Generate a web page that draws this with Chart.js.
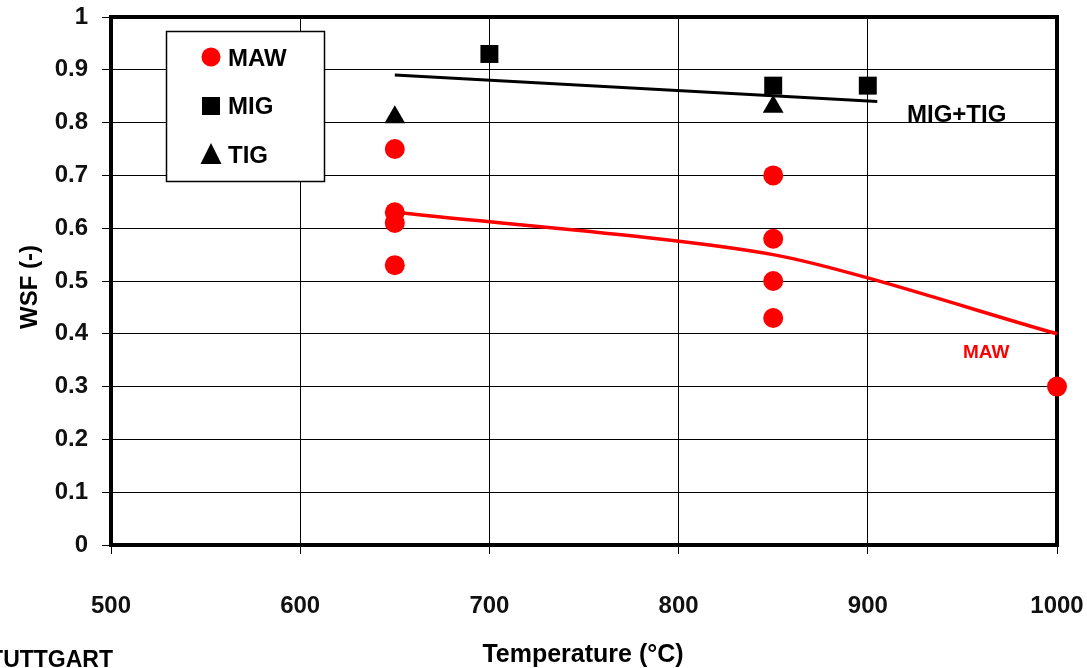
<!DOCTYPE html>
<html>
<head>
<meta charset="utf-8">
<script src="https://cdn.jsdelivr.net/npm/chart.js@4/dist/chart.umd.min.js"></script>
<style>
  html, body { margin: 0; padding: 0; background: #fff; }
  #wrap { width: 1087px; height: 668px; position: relative; }
</style>
</head>
<body>
<div id="wrap"><canvas id="c" width="1087" height="668"></canvas></div>
<script>
// Measured weld strength factors (WSF) against temperature
const mawTemps = [650, 650, 650, 650, 850, 850, 850, 850, 1000];
const mawWsf   = [0.75, 0.63, 0.61, 0.53, 0.70, 0.58, 0.50, 0.43, 0.30];
const migTemps = [700, 850, 900];
const migWsf   = [0.93, 0.87, 0.87];
const tigTemps = [650, 850];
const tigWsf   = [0.81, 0.83];

// Trend lines
const mawFitTemps = [650, 850, 1000];
const mawFitWsf   = [0.63, 0.55, 0.40];
const migTigFitTemps = [650, 905];
const migTigFitWsf   = [0.89, 0.84];

const xTicks = [500, 600, 700, 800, 900, 1000];
const yTicks = [0, 0.1, 0.2, 0.3, 0.4, 0.5, 0.6, 0.7, 0.8, 0.9, 1];

const pts = (xs, ys) => xs.map((x, i) => ({ x: x, y: ys[i] }));
const FONT = "'Liberation Sans', Arial, sans-serif";

// Frame, legend, annotations and axis titles
const decor = {
  id: 'decor',
  beforeDatasetsDraw(chart) {
    const { ctx, chartArea: a } = chart;
    ctx.save();
    ctx.strokeStyle = '#000';
    ctx.lineWidth = 4;
    ctx.strokeRect(a.left, a.top, a.right - a.left, a.bottom - a.top);
    ctx.restore();
  },
  afterDatasetsDraw(chart) {
    const { ctx } = chart;
    ctx.save();
    // legend box
    ctx.fillStyle = '#fff';
    ctx.fillRect(166, 31, 158, 150);
    ctx.strokeStyle = '#000';
    ctx.lineWidth = 1.5;
    ctx.strokeRect(166.5, 31.5, 158, 150);
    ctx.font = 'bold 24px ' + FONT;
    ctx.textBaseline = 'middle';
    ctx.textAlign = 'left';
    // MAW
    ctx.fillStyle = '#ff0000';
    ctx.beginPath(); ctx.arc(211, 57, 9.5, 0, Math.PI * 2); ctx.fill();
    ctx.fillStyle = '#000';
    ctx.fillText('MAW', 228, 59);
    // MIG
    ctx.fillRect(202, 97, 18, 18);
    ctx.fillText('MIG', 228, 107);
    // TIG
    ctx.beginPath();
    ctx.moveTo(211, 143); ctx.lineTo(221.5, 164); ctx.lineTo(200.5, 164); ctx.closePath(); ctx.fill();
    ctx.fillText('TIG', 228, 156);

    // line annotations
    ctx.fillStyle = '#000';
    ctx.font = 'bold 24px ' + FONT;
    ctx.fillText('MIG+TIG', 907, 115);
    ctx.fillStyle = '#ff0000';
    ctx.font = 'bold 19px ' + FONT;
    ctx.fillText('MAW', 963, 353);

    // axis titles
    ctx.fillStyle = '#000';
    ctx.font = 'bold 25px ' + FONT;
    ctx.textAlign = 'center';
    ctx.fillText('Temperature (°C)', 583, 655);
    ctx.save();
    ctx.translate(30, 287);
    ctx.rotate(-Math.PI / 2);
    ctx.font = 'bold 24px ' + FONT;
    ctx.fillText('WSF (-)', 0, 0);
    ctx.restore();

    ctx.textAlign = 'right';
    ctx.textBaseline = 'alphabetic';
    ctx.font = 'bold 23px ' + FONT;
    ctx.fillText('STUTTGART', 113, 667);
    ctx.restore();
  }
};

new Chart(document.getElementById('c'), {
  type: 'scatter',
  data: {
    datasets: [
      {
        label: 'MIG+TIG', data: pts(migTigFitTemps, migTigFitWsf), showLine: true,
        borderColor: '#000', borderWidth: 3, pointRadius: 0, clip: false, order: 5
      },
      {
        label: 'MAW fit', data: pts(mawFitTemps, mawFitWsf), showLine: true,
        borderColor: '#ff0000', borderWidth: 3.5, pointRadius: 0, tension: 0.25,
        cubicInterpolationMode: 'default', clip: false, order: 4
      },
      {
        label: 'MAW', data: pts(mawTemps, mawWsf), pointStyle: 'circle', pointRadius: 10,
        backgroundColor: '#ff0000', borderColor: '#ff0000', borderWidth: 0, clip: false, order: 1
      },
      {
        label: 'MIG', data: pts(migTemps, migWsf), pointStyle: 'rect', pointRadius: 12.7,
        backgroundColor: '#000', borderColor: '#000', borderWidth: 0, clip: false, order: 2
      },
      {
        label: 'TIG', data: pts(tigTemps, tigWsf), pointStyle: 'triangle', pointRadius: 12,
        backgroundColor: '#000', borderColor: '#000', borderWidth: 0, clip: false, order: 3
      }
    ]
  },
  options: {
    responsive: false,
    animation: false,
    events: [],
    layout: { padding: { top: 17, right: 30, left: 0, bottom: 0 } },
    plugins: { legend: { display: false }, tooltip: { enabled: false } },
    scales: {
      x: {
        type: 'linear', min: 500, max: 1000,
        afterBuildTicks: (s) => { s.ticks = xTicks.map(v => ({ value: v })); },
        afterFit: (s) => { s.height = 123; s.paddingLeft = 0; s.paddingRight = 0; },
        border: { display: false },
        grid: { color: '#000', lineWidth: 1, tickLength: 9, drawTicks: true, tickColor: '#000' },
        ticks: { color: '#111', font: { family: FONT, size: 24, weight: 'bold' }, padding: 38,
                 maxRotation: 0, autoSkip: false, callback: (v) => String(v) }
      },
      y: {
        type: 'linear', min: 0, max: 1,
        afterBuildTicks: (s) => { s.ticks = yTicks.map(v => ({ value: v })); },
        afterFit: (s) => { s.width = 111; s.paddingTop = 0; s.paddingBottom = 0; },
        border: { display: false },
        grid: { color: '#000', lineWidth: 1, tickLength: 9, drawTicks: true, tickColor: '#000' },
        ticks: { color: '#111', font: { family: FONT, size: 24, weight: 'bold' }, padding: 14,
                 autoSkip: false, callback: (v) => String(Math.round(v * 10) / 10) }
      }
    }
  },
  plugins: [decor]
});
</script>
</body>
</html>
